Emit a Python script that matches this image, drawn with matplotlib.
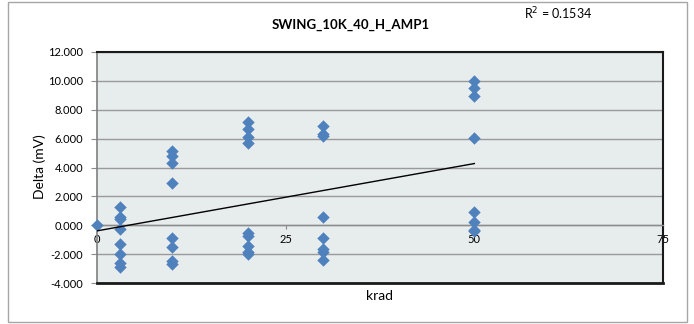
import numpy as np
import matplotlib.pyplot as plt
from matplotlib.patches import Rectangle

# valores (krad -> delta em mV)
krad = [0,
        3, 3, 3, 3, 3, 3, 3, 3,
        10, 10, 10, 10, 10, 10, 10, 10,
        20, 20, 20, 20, 20, 20, 20, 20, 20,
        30, 30, 30, 30, 30, 30, 30, 30,
        50, 50, 50, 50, 50, 50, 50, 50]
delta = [0.0,
         1.28, 0.55, 0.42, -0.25, -1.28, -2.0, -2.6, -2.92,
         5.17, 4.78, 4.28, 2.95, -0.88, -1.48, -2.5, -2.68,
         7.12, 6.65, 6.1, 5.68, -0.55, -0.76, -1.42, -1.88, -2.02,
         6.9, 6.3, 6.15, 0.58, -0.87, -1.66, -1.82, -2.4,
         9.97, 9.48, 8.98, 6.02, 0.9, 0.25, -0.3, -0.42]
r2_text = 'R$^2$ = 0.1534'
titulo = 'SWING_10K_40_H_AMP1'
xticks = [0, 25, 50, 75]
yticks = [-4, -2, 0, 2, 4, 6, 8, 10, 12]

plt.rcParams['font.family'] = ['Lato', 'DejaVu Sans']

fig = plt.figure(figsize=(6.94, 3.24), dpi=100)
ax = fig.add_axes([97/694, 1-283/324, (663-97)/694, (283-52)/324])
ax.set_facecolor('#E7ECEC')

# borda externa do grafico
fig.patches.append(Rectangle((8/694, 2/324), (687-8)/694, (322-2)/324,
                             transform=fig.transFigure, fill=False,
                             edgecolor='#A6A6A6', linewidth=1))

ax.set_xlim(0, 75)
ax.set_ylim(-4, 12)
ax.set_yticks(yticks)
ax.set_yticklabels([f'{v:.3f}' for v in yticks])
ax.set_xticks(xticks)
ax.set_xticklabels([str(v) for v in xticks])
ax.grid(axis='y', color='#9A9A9A', linewidth=1)
ax.set_axisbelow(True)

# eixo x cruza em zero, como no excel
ax.spines['bottom'].set_position(('data', 0))
ax.spines['bottom'].set_color('#8C8C8C')
ax.spines['bottom'].set_linewidth(1)
ax.spines['left'].set_color('#7F7F7F')
ax.spines['left'].set_linewidth(1.2)
for s in ['top', 'right']:
    ax.spines[s].set_color('#1A1A1A')
    ax.spines[s].set_linewidth(1.5)
ax.axhline(-4, color='#1A1A1A', linewidth=2, clip_on=False, zorder=5)

ax.tick_params(axis='x', direction='out', length=3, color='#8C8C8C',
               labelsize=8, pad=3)
ax.tick_params(axis='y', direction='out', length=4, color='#8C8C8C',
               labelsize=8, pad=6)

ax.scatter(krad, delta, marker='D', s=40, color='#4F81BD', zorder=3,
           clip_on=False, linewidths=0)

# linha de tendencia
a, b = np.polyfit(krad, delta, 1)
xl = np.array([min(krad), max(krad)])
ax.plot(xl, a*xl + b, color='black', linewidth=1, zorder=4)

fig.text(40/694, 1-167/324, 'Delta (mV)', rotation=90, ha='center',
         va='center', fontsize=10)
fig.text(380/694, 1-296/324, 'krad', ha='center', va='center', fontsize=10)
fig.text(351/694, 1-25/324, titulo, ha='center', va='center',
         fontsize=9.5, fontweight='bold')
fig.text(524/694, 1-14/324, r2_text, ha='left', va='center', fontsize=9)

fig.savefig('out.png', dpi=100)
